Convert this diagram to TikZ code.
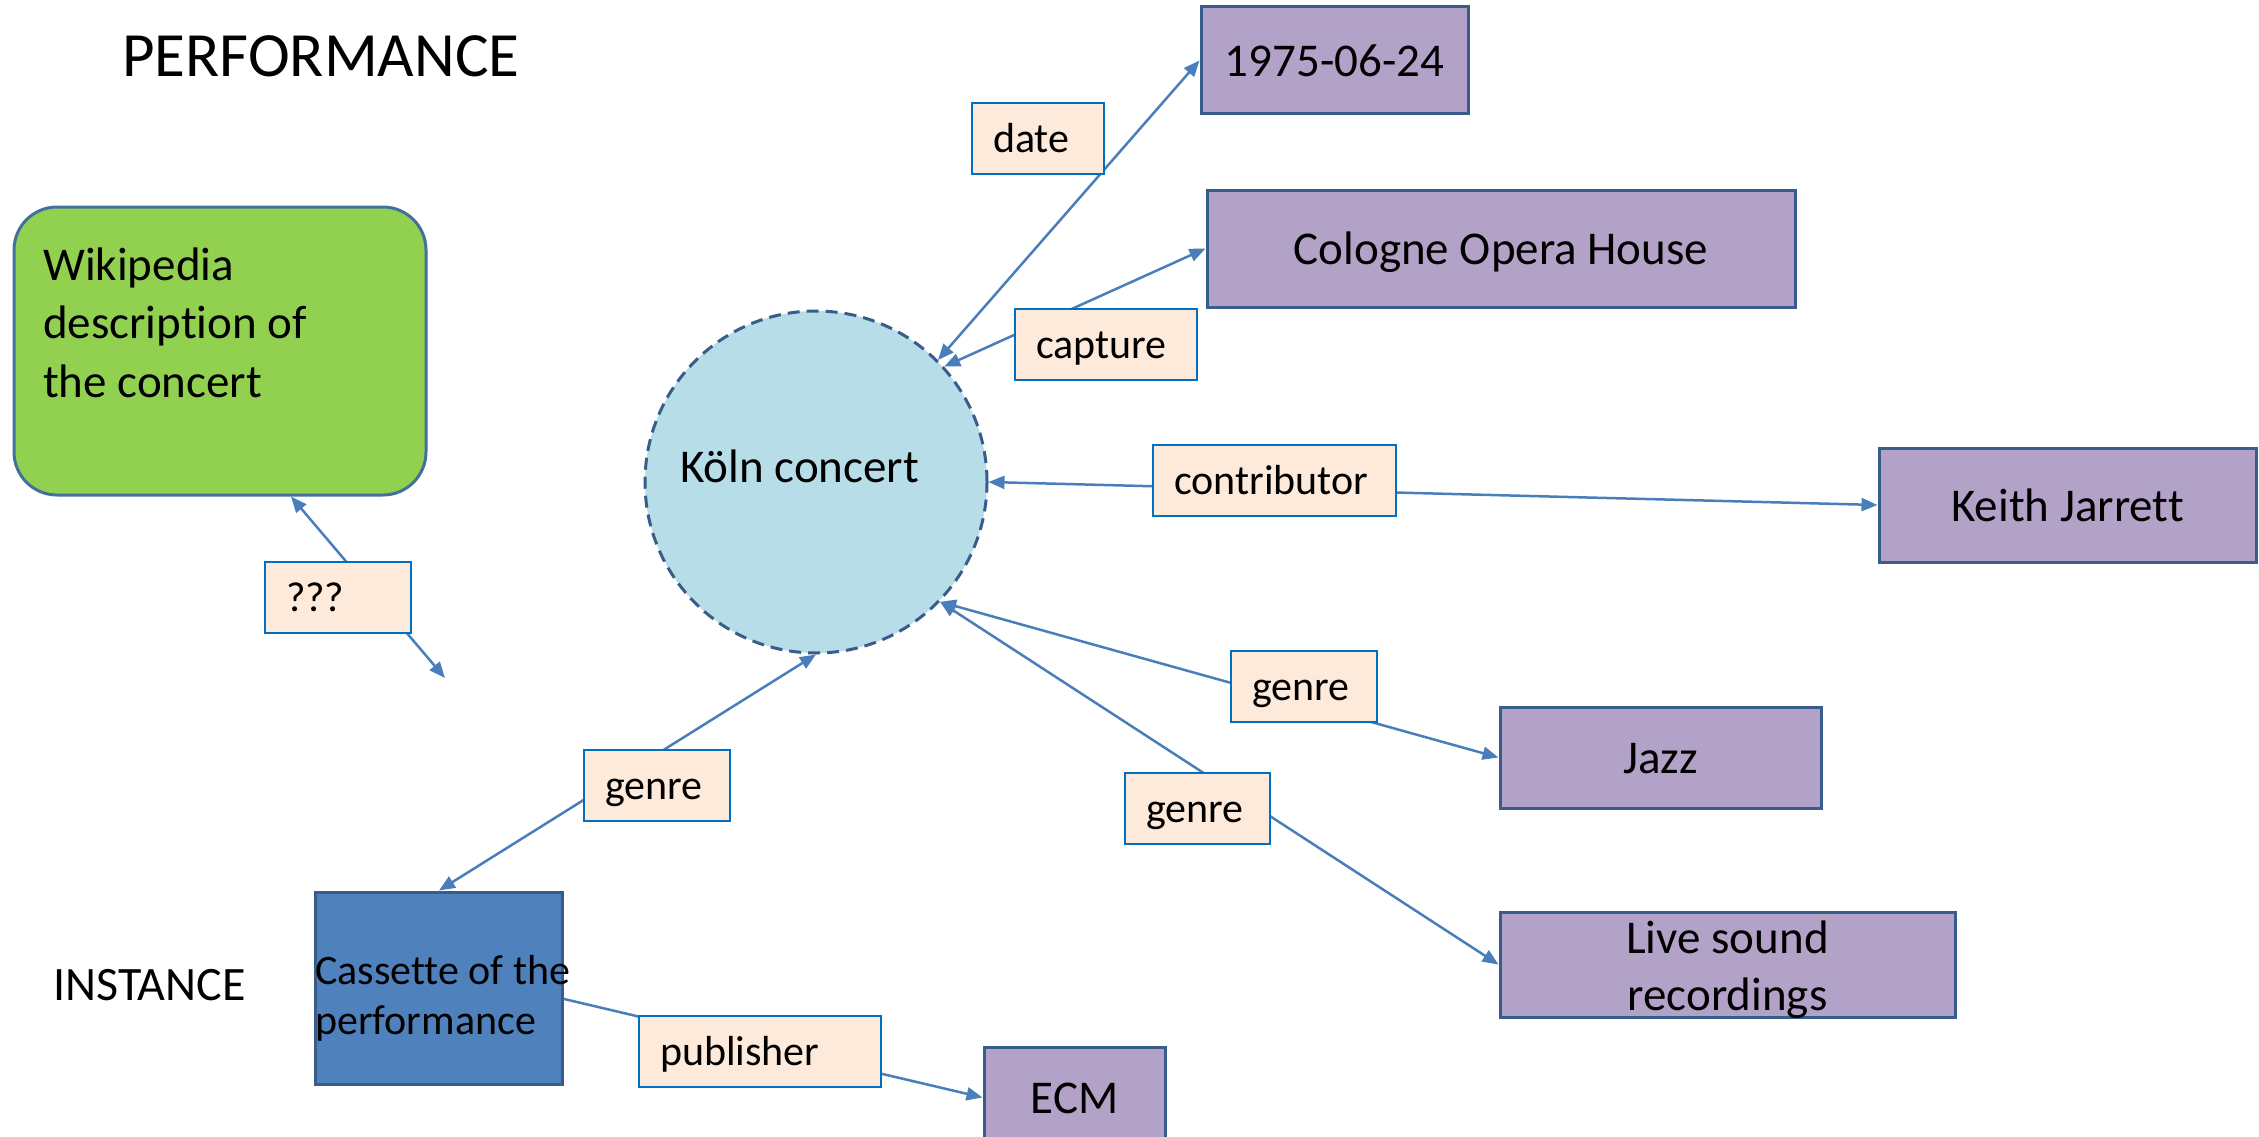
\documentclass[tikz,border=0pt]{standalone}
\usepackage{fontspec}
\setmainfont{Carlito}[Ligatures=CommonOff]
\usetikzlibrary{arrows.meta,calc}
\definecolor{purp}{HTML}{B3A2C7}
\definecolor{boxborder}{HTML}{385D8A}
\definecolor{peach}{HTML}{FDEADA}
\definecolor{lblborder}{HTML}{0070C0}
\definecolor{linec}{HTML}{4A7EBB}
\definecolor{wikigreen}{HTML}{92D050}
\definecolor{wikiborder}{HTML}{41719C}
\definecolor{circfill}{HTML}{B7DEE8}
\definecolor{cassfill}{HTML}{4F81BD}
\tikzset{
  pbox/.style={draw=boxborder, fill=purp, line width=3pt, inner sep=0pt,
    font=\fontsize{47}{57}\selectfont, text height=32pt, text depth=0pt},
  lbl/.style={draw=lblborder, fill=peach, line width=2.2pt, anchor=north west,
    inner xsep=21pt, inner ysep=0pt, text height=49pt, text depth=22pt,
    align=left, font=\fontsize{42}{50}\selectfont},
  conn/.style={draw=linec, line width=2.5pt,
    {Triangle[length=16pt,width=13pt]}-{Triangle[length=16pt,width=13pt]}},
  conn1/.style={draw=linec, line width=2.5pt, -{Triangle[length=16pt,width=13pt]}},
  txt/.style={inner sep=0pt, anchor=base west},
}
\begin{document}
\begin{tikzpicture}[x=1pt,y=-1pt]
\useasboundingbox (0,0) rectangle (2259,1137);
% titles
\node[txt, font=\fontsize{63}{76}\selectfont] (perf) at (122,77) {PERFORMANCE};
\node[txt, font=\fontsize{48}{58}\selectfont] (inst) at (53,1000) {INSTANCE};
% main shapes
\node[draw=wikiborder, fill=wikigreen, line width=3pt, rounded corners=43pt,
      minimum width=412pt, minimum height=288pt, inner sep=0pt] (wiki) at (220,351) {};
\node[txt, font=\fontsize{47}{58.5}\selectfont] (wikit) at (43,280)
  {\begin{tabular}[t]{@{}l@{}}Wikipedia\\description of\\the concert\end{tabular}};
\node[circle, draw=boxborder, fill=circfill, line width=3pt, dash pattern=on 12pt off 7pt,
      minimum size=342pt, inner sep=0pt] (koln) at (816,482) {};
\node[txt, font=\fontsize{47}{57}\selectfont] (kolnt) at (680,482) {Köln concert};
\node[pbox, minimum width=267pt, minimum height=107pt] (d1975) at (1334.5,60.5) {1975-06-24};
\node[pbox, minimum width=588pt, minimum height=117pt] (cologne) at (1501,248.5) {Cologne Opera House};
\node[pbox, minimum width=377pt, minimum height=114pt] (keith) at (2067.5,505) {Keith Jarrett};
\node[pbox, minimum width=321pt, minimum height=101pt] (jazz) at (1660.5,757.5) {Jazz};
\node[draw=boxborder, fill=purp, line width=3pt, inner sep=0pt,
      minimum width=455pt, minimum height=105pt] (live) at (1727.5,964.5) {};
\node[inner sep=0pt, anchor=base, font=\fontsize{47}{57}\selectfont] (livet) at (1727.5,953)
  {\begin{tabular}[t]{@{}c@{}}Live sound\\recordings\end{tabular}};
\node[pbox, anchor=north west, minimum width=181.5pt, minimum height=100pt] (ecm) at (982.5,1046) {ECM};
\node[draw=boxborder, fill=cassfill, line width=3pt, inner sep=0pt,
      minimum width=246.5pt, minimum height=192pt] (cass) at (439,988) {};
\node[txt, font=\fontsize{42}{50}\selectfont] (casst) at (315,984)
  {\begin{tabular}[t]{@{}l@{}}Cassette of the\\performance\end{tabular}};
\coordinate (free) at (445,678);
% connectors
\draw[conn] (koln.45) -- (d1975.west);
\draw[conn] (koln.42) -- (cologne.west);
\draw[conn] (koln.east) -- (keith.west);
\draw[conn] (koln.-44) -- (jazz.west);
\draw[conn] (koln.-44) -- (live.west);
\draw[conn] (koln.south) -- (cass.north);
\draw[conn] (wiki.-64.7) -- (free);
\draw[conn1] (cass.-5) -- (ecm.west);
% labels
\node[lbl, text width=90pt] (ldate) at (971,102) {date};
\node[lbl, text width=140pt] (lcapture) at (1014,308) {capture};
\node[lbl, text width=201pt] (lcontrib) at (1152,444) {contributor};
\node[lbl, text width=104pt] (lgenre1) at (1230,650) {genre};
\node[lbl, text width=103pt] (lgenre2) at (1124,772) {genre};
\node[lbl, text width=104pt] (lgenre3) at (583,749) {genre};
\node[lbl, text width=104pt] (lq) at (264,561) {???};
\node[lbl, text width=200pt] (lpub) at (638,1015) {publisher};
\end{tikzpicture}
\end{document}
